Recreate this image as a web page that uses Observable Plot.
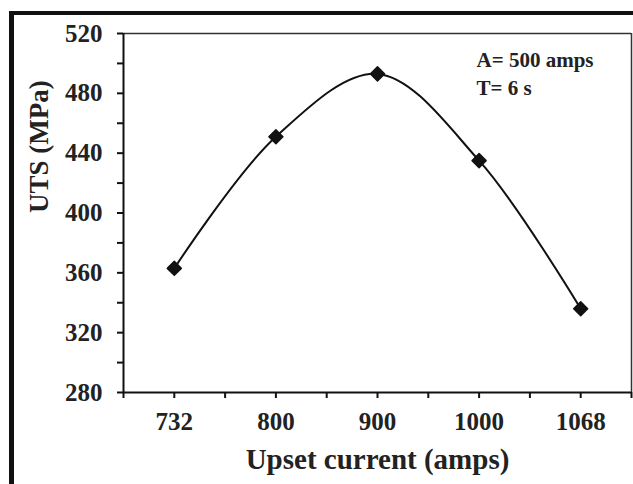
<!DOCTYPE html>
<html>
<head>
<meta charset="utf-8">
<script src="https://cdn.jsdelivr.net/npm/d3@7"></script>
<script src="https://cdn.jsdelivr.net/npm/@observablehq/plot@0.6"></script>
<style>
  html, body { margin: 0; padding: 0; background: #fff; }
  #wrap { position: relative; width: 633px; height: 484px; overflow: hidden; background: #fff; }
  #outer { position: absolute; left: 9px; top: 11px; width: 700px; height: 600px;
           border-left: 5px solid #111; border-top: 4px solid #111; box-sizing: border-box; pointer-events: none; }
  #chart { position: absolute; left: 0; top: 0; }
  #chart svg text { font-family: "Liberation Serif", "Times New Roman", serif; font-weight: bold; }
</style>
</head>
<body>
<div id="wrap"><div id="chart"></div><div id="outer"></div></div>
<script>
const currents = ["732", "800", "900", "1000", "1068"];
const uts = [363, 451, 493, 435, 336];
const yTicks = [280, 300, 320, 340, 360, 380, 400, 420, 440, 460, 480, 500, 520];
const annotation = ["A= 500 amps", "T= 6 s"];

const data = currents.map((c, i) => ({i, c, v: uts[i]}));
const xTicks = d3.range(-0.5, currents.length, 0.5);
const font = "Liberation Serif, Times New Roman, serif";

const chart = Plot.plot({
  width: 633,
  height: 484,
  marginLeft: 123,
  marginRight: 2,
  marginTop: 33,
  marginBottom: 92,
  style: {background: "#fff", fontFamily: font, fontWeight: "bold", color: "#222"},
  x: {type: "linear", domain: [-0.5, currents.length - 0.5]},
  y: {domain: [280, 520]},
  marks: [
    Plot.ruleY([520], {stroke: "#333", strokeWidth: 1.5}),
    Plot.ruleX([currents.length - 0.5], {stroke: "#333", strokeWidth: 1.5}),
    Plot.axisY({ticks: yTicks, tickSize: 6, tickPadding: 15, strokeWidth: 2, stroke: "#111",
      tickFormat: d => d % 40 === 0 ? String(d) : "", fontSize: 25, fontWeight: "bold", fill: "#222", label: null}),
    Plot.axisX({ticks: xTicks, tickSize: 6, tickPadding: 14, strokeWidth: 2, stroke: "#111",
      tickFormat: d => Number.isInteger(d) ? currents[d] : "", fontSize: 25, fontWeight: "bold", fill: "#222", label: null}),
    Plot.ruleX([-0.5], {stroke: "#111", strokeWidth: 2}),
    Plot.ruleY([280], {stroke: "#111", strokeWidth: 2}),
    Plot.line(data, {x: "i", y: "v", curve: "catmull-rom", stroke: "#111", strokeWidth: 2}),
    Plot.dot(data, {x: "i", y: "v", symbol: "diamond2", r: 6.3, fill: "#111", stroke: "#111", strokeWidth: 1.5, strokeLinejoin: "round"}),
    Plot.text(["Upset current (amps)"], {frameAnchor: "bottom", dy: 76, fontSize: 29, fontWeight: "bold", fill: "#222", lineAnchor: "bottom"}),
    Plot.text(["UTS (MPa)"], {frameAnchor: "left", dx: -76, rotate: -90, fontSize: 27, fontWeight: "bold", fill: "#222", lineAnchor: "bottom"}),
    Plot.text([annotation.join("\n")], {frameAnchor: "top-left", dx: 353, dy: 13, fontSize: 21, fontWeight: "bold", fill: "#222", textAnchor: "start", lineAnchor: "top", lineHeight: 1.35})
  ]
});
document.getElementById("chart").appendChild(chart);
</script>
</body>
</html>
